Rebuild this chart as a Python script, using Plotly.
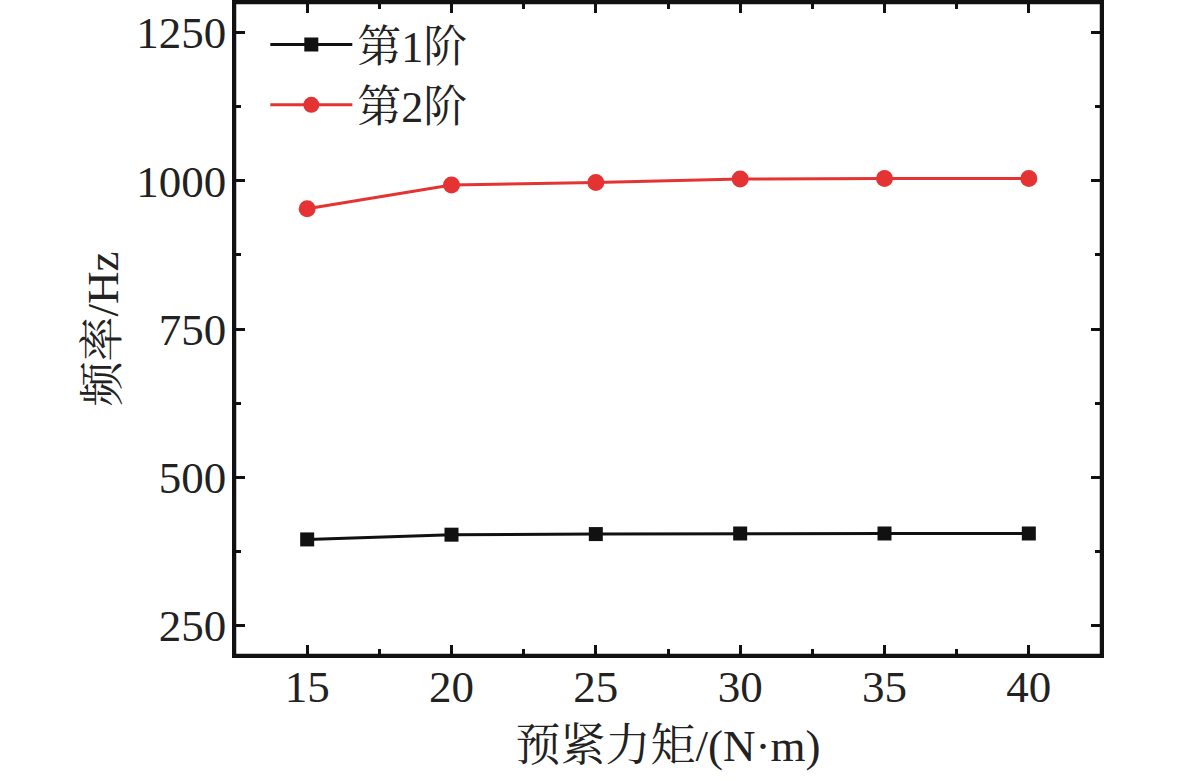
import plotly.graph_objects as go

torque = [15, 20, 25, 30, 35, 40]
mode1 = [395, 403, 404, 405, 405, 405]
mode2 = [953, 993, 997, 1003, 1004, 1004]
names = ["第1阶", "第2阶"]
x_title = "预紧力矩/(N·m)"
y_title = "频率/Hz"

FONT = "Liberation Serif, Times New Roman, Noto Serif CJK SC, Noto Sans CJK SC, serif"

fig = go.Figure()
fig.add_trace(go.Scatter(x=torque, y=mode1, name=names[0], mode="lines+markers",
                         line=dict(color="#111111", width=3),
                         marker=dict(symbol="square", size=14, color="#111111")))
fig.add_trace(go.Scatter(x=torque, y=mode2, name=names[1], mode="lines+markers",
                         line=dict(color="#E53333", width=3),
                         marker=dict(symbol="circle", size=17, color="#E53333")))

axis_common = dict(showgrid=False, zeroline=False, showline=True, linecolor="#111111",
                   linewidth=2.5, mirror="ticks", ticks="inside", ticklen=10, tickwidth=2.5,
                   tickcolor="#111111", automargin=False,
                   tickfont=dict(family=FONT, size=45, color="#222222"))

fig.update_xaxes(range=[12.5, 42.5], tickvals=torque, ticktext=[str(t) for t in torque],
                 ticklabelstandoff=-10,
                 minor=dict(ticks="inside", ticklen=6, tickwidth=2.5, tickcolor="#111111", dtick=2.5, tick0=12.5),
                 title=dict(text=x_title, font=dict(family=FONT, size=45, color="#222222"), standoff=19),
                 **axis_common)
fig.update_yaxes(range=[200, 1300], tickvals=[250, 500, 750, 1000, 1250],
                 ticklabelstandoff=-3,
                 minor=dict(ticks="inside", ticklen=6, tickwidth=2.5, tickcolor="#111111", dtick=125, tick0=125),
                 title=dict(text=y_title, font=dict(family=FONT, size=45, color="#222222"), standoff=4),
                 **axis_common)

fig.add_shape(type="rect", xref="x domain", yref="y domain", x0=0, x1=1, y0=0, y1=1,
              line=dict(color="#111111", width=2.5), fillcolor="rgba(0,0,0,0)", layer="above")

fig.update_layout(width=1181, height=781, margin=dict(l=235, r=80, t=3, b=126),
                  paper_bgcolor="white", plot_bgcolor="white",
                  font=dict(family=FONT, size=44, color="#222222"),
                  legend=dict(x=0.035, y=0.99, xanchor="left", yanchor="top",
                              bgcolor="rgba(0,0,0,0)", itemwidth=82,
                              font=dict(family=FONT, size=44, color="#222222"),
                              tracegroupgap=0))

fig.write_html("out.html", config={"displayModeBar": False},
               post_script="document.body.style.margin='0px';")
